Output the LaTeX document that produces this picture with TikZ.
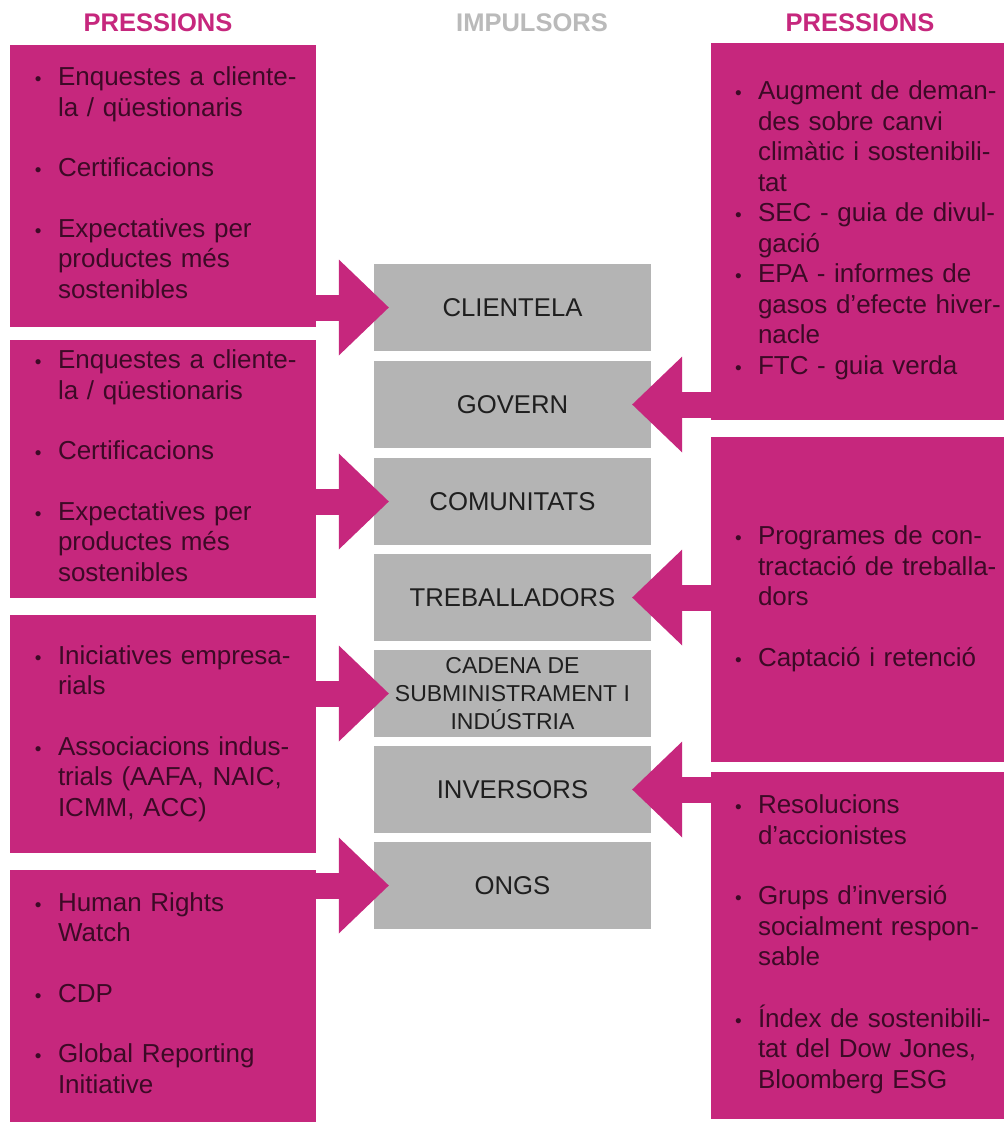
\documentclass[tikz,border=0pt]{standalone}
\usepackage{fontspec}
\setmainfont{Liberation Sans}
\usetikzlibrary{arrows.meta}
\definecolor{pressio}{RGB}{198,39,125}
\definecolor{pressiotext}{RGB}{60,10,38}
\definecolor{impuls}{RGB}{180,180,180}
\definecolor{titolgris}{RGB}{186,186,186}
\newcommand\blt{\makebox[21pt][l]{\hspace{-2pt}{\fontsize{19}{19}\selectfont\textbullet}}}
\tikzset{
  lpress/.style={fill=pressio, text=pressiotext, inner xsep=27pt, inner ysep=0pt, text width=252pt, align=left, font=\fontsize{26}{30.5}\selectfont},
  rpress/.style={lpress, inner xsep=26pt, text width=241pt},
  impulsor/.style={fill=impuls, minimum width=277pt, minimum height=87pt, inner sep=0pt, align=center, text=black!88, font=\fontsize{25.7}{30}\selectfont},
  titol/.style={font=\fontsize{25.5}{30}\selectfont\bfseries},
  empenta/.style={draw=pressio, line width=26pt, -{Triangle[length=50pt,width=96pt,line width=0pt]}}
}
\begin{document}
\begin{tikzpicture}[x=1pt,y=-1pt]
    \useasboundingbox[fill=white] (0,0) rectangle (1004,1122);
    % titles
    \node[titol, text=pressio] (tl) at (158,23) {PRESSIONS};
    \node[titol, text=titolgris] (tc) at (532,23) {IMPULSORS};
    \node[titol, text=pressio] (tr) at (860,23) {PRESSIONS};
    % left
    \node[lpress, minimum height=282pt] (l1) at (163,186) {\begin{tabular}{@{}l@{}l@{}}
        \blt & Enquestes a cliente-\\
            & la / qüestionaris\\[30pt]
        \blt & Certificacions\\[30pt]
        \blt & Expectatives per\\
            & productes més\\
            & sostenibles
    \end{tabular}};
    \node[lpress, minimum height=258pt] (l2) at (163,469) {\begin{tabular}{@{}l@{}l@{}}
        \blt & Enquestes a cliente-\\
            & la / qüestionaris\\[30pt]
        \blt & Certificacions\\[30pt]
        \blt & Expectatives per\\
            & productes més\\
            & sostenibles
    \end{tabular}};
    \node[lpress, minimum height=238pt] (l3) at (163,734) {\begin{tabular}{@{}l@{}l@{}}
        \blt & Iniciatives empresa-\\
            & rials\\[30pt]
        \blt & Associacions indus-\\
            & trials (AAFA, NAIC,\\
            & ICMM, ACC)
    \end{tabular}};
    \node[lpress, minimum height=252pt] (l4) at (163,996) {\begin{tabular}{@{}l@{}l@{}}
        \blt & Human Rights\\
            & Watch\\[30pt]
        \blt & CDP\\[30pt]
        \blt & Global Reporting\\
            & Initiative
    \end{tabular}};
    % right
    \node[rpress, minimum height=377pt] (r1) at (857.5,231) {\begin{tabular}{@{}l@{}l@{}}
        \blt & Augment de deman-\\
            & des sobre canvi\\
            & climàtic i sostenibili-\\
            & tat\\
        \blt & SEC - guia de divul-\\
            & gació\\
        \blt & EPA - informes de\\
            & gasos d'efecte hiver-\\
            & nacle\\
        \blt & FTC - guia verda
    \end{tabular}};
    \node[rpress, minimum height=325pt] (r2) at (857.5,599.5) {\begin{tabular}{@{}l@{}l@{}}
        \blt & Programes de con-\\
            & tractació de treballa-\\
            & dors\\[30pt]
        \blt & Captació i retenció
    \end{tabular}};
    \node[rpress, minimum height=347pt] (r3) at (857.5,945) {\begin{tabular}{@{}l@{}l@{}}
        \blt & Resolucions\\
            & d'accionistes\\[30pt]
        \blt & Grups d'inversió\\
            & socialment respon-\\
            & sable\\[30pt]
        \blt & Índex de sostenibili-\\
            & tat del Dow Jones,\\
            & Bloomberg ESG
    \end{tabular}};
    % impulsors
    \node[impulsor] (cli) at (512.5,307.5) {CLIENTELA};
    \node[impulsor] (gov) at (512.5,404.5) {GOVERN};
    \node[impulsor] (com) at (512.5,501.5) {COMUNITATS};
    \node[impulsor] (tre) at (512.5,597.5) {TREBALLADORS};
    \node[impulsor, font=\fontsize{23}{28}\selectfont] (cad) at (512.5,693.5) {CADENA DE\\SUBMINISTRAMENT I\\INDÚSTRIA};
    \node[impulsor] (inv) at (512.5,789.5) {INVERSORS};
    \node[impulsor] (ong) at (512.5,885.5) {ONGS};
    % arrows
    \draw[empenta] (l1.east |- cli) -- ([xshift=15pt]cli.west);
    \draw[empenta] (l2.east |- com) -- ([xshift=15pt]com.west);
    \draw[empenta] (l3.east |- cad) -- ([xshift=15pt]cad.west);
    \draw[empenta] (l4.east |- ong) -- ([xshift=15pt]ong.west);
    \draw[empenta] (r1.west |- gov) -- ([xshift=-19pt]gov.east);
    \draw[empenta] (r2.west |- tre) -- ([xshift=-19pt]tre.east);
    \draw[empenta] (r3.west |- inv) -- ([xshift=-19pt]inv.east);
\end{tikzpicture}
\end{document}
